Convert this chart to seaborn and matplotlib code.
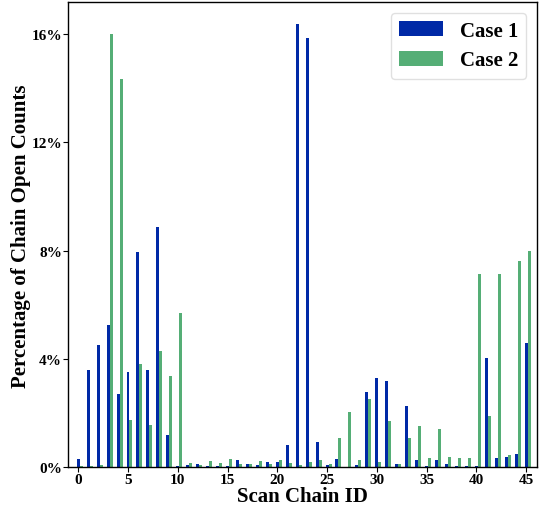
import numpy as np
import pandas as pd
import matplotlib
matplotlib.use("Agg")
import matplotlib.pyplot as plt
import seaborn as sns

# Scan chain IDs and share of chain-open counts (in percent) for each case
chain_ids = list(range(46))
case1 = [0.30, 3.60, 4.50, 5.25, 2.70, 3.53, 7.96, 3.60, 8.89, 1.18,
         0.03, 0.10, 0.14, 0.03, 0.03, 0.03, 0.28, 0.14, 0.07, 0.21,
         0.21, 0.84, 16.37, 15.85, 0.93, 0.07, 0.30, 0.02, 0.07, 2.78,
         3.30, 3.19, 0.11, 2.26, 0.26, 0.04, 0.26, 0.11, 0.04, 0.04,
         0.04, 4.04, 0.33, 0.37, 0.48, 4.59]
case2 = [0.05, 0.05, 0.10, 16.00, 14.33, 1.74, 3.80, 1.55, 4.30, 3.37,
         5.70, 0.17, 0.10, 0.25, 0.17, 0.32, 0.14, 0.14, 0.25, 0.14,
         0.28, 0.17, 0.10, 0.21, 0.26, 0.11, 1.07, 2.04, 0.26, 2.52,
         0.19, 1.70, 0.11, 1.07, 1.52, 0.33, 1.41, 0.37, 0.33, 0.33,
         7.15, 1.89, 7.15, 0.44, 7.63, 8.00]
case_names = ["Case 1", "Case 2"]
case_colors = ["#0029a6", "#55ae76"]
y_ticks = [0, 4, 8, 12, 16]
x_ticks = list(range(0, 46, 5))

df = pd.DataFrame({
    "chain": chain_ids * 2,
    "pct": case1 + case2,
    "case": [case_names[0]] * len(case1) + [case_names[1]] * len(case2),
})

sns.set_style("ticks")
plt.rcParams["font.family"] = ["Liberation Serif", "DejaVu Serif"]
plt.rcParams["font.weight"] = "bold"
plt.rcParams["text.color"] = "black"
plt.rcParams["axes.labelcolor"] = "black"
plt.rcParams["xtick.color"] = "black"
plt.rcParams["ytick.color"] = "black"

fig = plt.figure(figsize=(5.45, 5.06), dpi=100)
ax = fig.add_axes([68.3 / 545, 1 - 468.3 / 506, (536.7 - 68.3) / 545, (468.3 - 3.3) / 506])

sns.barplot(data=df, x="chain", y="pct", hue="case", hue_order=case_names,
            palette=case_colors, saturation=1, native_scale=True, width=0.6,
            errorbar=None, linewidth=0, ax=ax)

# the first bar of each pair sits on its tick
half = 0.15
ax.set_xticks([t - half for t in x_ticks])
ax.set_xticklabels([str(t) for t in x_ticks])
ax.set_xlim(-1.0 - half, 46.07 - half)

ax.set_yticks(y_ticks)
ax.set_yticklabels([f"{t}%" for t in y_ticks])
ax.set_ylim(0, 17.17)

ax.tick_params(axis="both", labelsize=11, length=3.5, width=0.8, pad=1,
               colors="black")
ax.tick_params(axis="x", pad=0.5)
for lab in ax.get_xticklabels() + ax.get_yticklabels():
    lab.set_fontweight("bold")

for s in ax.spines.values():
    s.set_visible(True)
    s.set_color("black")
    s.set_linewidth(1.0)

ax.set_xlabel("Scan Chain ID", fontsize=15, fontweight="bold", labelpad=0)
ax.set_ylabel("Percentage of Chain Open Counts", fontsize=15, fontweight="bold", labelpad=0)

leg = ax.legend(loc="upper right", prop={"weight": "bold", "size": 15},
                handlelength=2.1, handleheight=0.75, borderpad=0.4,
                labelspacing=0.45, handletextpad=0.8, frameon=True,
                bbox_to_anchor=(1.0, 1.0), borderaxespad=0.5)
leg.get_frame().set_edgecolor("#d9d9d9")

fig.savefig("out.png", dpi=100)
